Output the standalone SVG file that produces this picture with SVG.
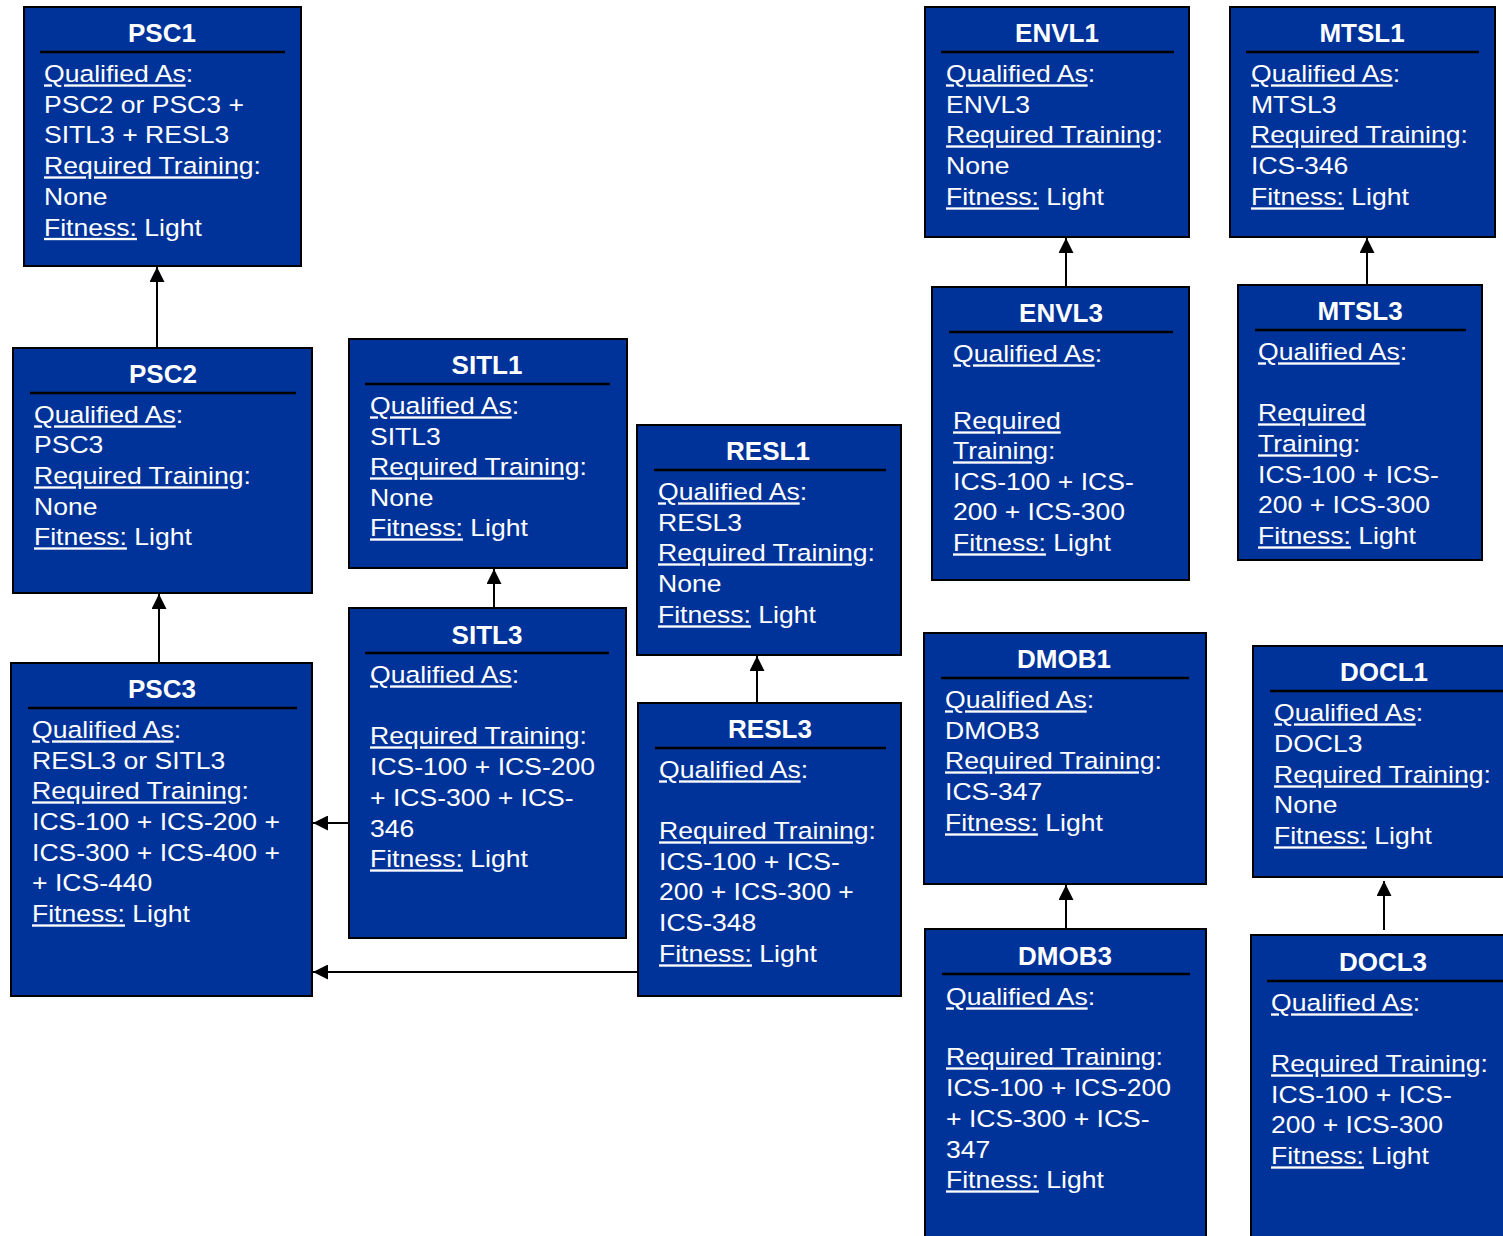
<svg xmlns="http://www.w3.org/2000/svg" width="1503" height="1236" viewBox="0 0 1503 1236">
  <style>
    .box{fill:#003399;stroke:#000;stroke-width:2}
    .sep{stroke:#000;stroke-width:2.5}
    .title{font-family:"Liberation Sans",Arial,sans-serif;font-weight:bold;font-size:26px;fill:#fff;text-anchor:middle}
    .body{font-family:"Liberation Sans",Arial,sans-serif;font-size:23.3px;fill:#fff}
    .u{text-decoration:underline}
    .conn{stroke:#000;stroke-width:2;fill:none;marker-end:url(#arrow)}
  </style>
  <defs>
    <marker id="arrow" markerUnits="userSpaceOnUse" viewBox="0 0 15 15" markerWidth="15" markerHeight="15" refX="15" refY="7.5" orient="auto">
      <path d="M0,0 L15,7.5 L0,15 z" fill="#000"/>
    </marker>
  </defs>
  <rect width="1503" height="1236" fill="#fff"/>

  <!-- Connectors -->
  <g id="connectors">
    <path class="conn" d="M157,348 L157,267"/>
    <path class="conn" d="M159,663 L159,594"/>
    <path class="conn" d="M494,608 L494,569"/>
    <path class="conn" d="M757,703 L757,656"/>
    <path class="conn" d="M1066,287 L1066,238"/>
    <path class="conn" d="M1367,285 L1367,238"/>
    <path class="conn" d="M1066,929 L1066,885"/>
    <path class="conn" d="M1384,930 L1384,881"/>
    <path class="conn" d="M349,823 L313,823"/>
    <path class="conn" d="M638,972 L313,972"/>
  </g>

  <!-- PSC1 -->
  <g id="PSC1">
    <rect class="box" x="24" y="7" width="277" height="259"/>
    <text class="title" x="162" y="42">PSC1</text>
    <line class="sep" x1="40" y1="52" x2="285" y2="52"/>
    <g class="body" transform="translate(44 0) scale(1.14 1)">
      <text y="82.5"><tspan class="u">Qualified As</tspan>:</text>
      <text y="113">PSC2 or PSC3 +</text>
      <text y="143.5">SITL3 + RESL3</text>
      <text y="174.5"><tspan class="u">Required Training</tspan>:</text>
      <text y="205">None</text>
      <text y="236"><tspan class="u">Fitness:</tspan> Light</text>
    </g>
  </g>

  <!-- PSC2 -->
  <g id="PSC2">
    <rect class="box" x="13" y="348" width="299" height="245"/>
    <text class="title" x="163" y="383">PSC2</text>
    <line class="sep" x1="30" y1="393" x2="296" y2="393"/>
    <g class="body" transform="translate(34 0) scale(1.14 1)">
      <text y="423.5"><tspan class="u">Qualified As</tspan>:</text>
      <text y="453.5">PSC3</text>
      <text y="484.5"><tspan class="u">Required Training</tspan>:</text>
      <text y="515.5">None</text>
      <text y="545.5"><tspan class="u">Fitness:</tspan> Light</text>
    </g>
  </g>

  <!-- PSC3 -->
  <g id="PSC3">
    <rect class="box" x="11" y="663" width="301" height="333"/>
    <text class="title" x="162" y="698">PSC3</text>
    <line class="sep" x1="28" y1="708" x2="297" y2="708"/>
    <g class="body" transform="translate(32 0) scale(1.14 1)">
      <text y="738.5"><tspan class="u">Qualified As</tspan>:</text>
      <text y="769.5">RESL3 or SITL3</text>
      <text y="799.5"><tspan class="u">Required Training</tspan>:</text>
      <text y="830.5">ICS-100 + ICS-200 +</text>
      <text y="861.5">ICS-300 + ICS-400 +</text>
      <text y="891.5">+ ICS-440</text>
      <text y="922.5"><tspan class="u">Fitness:</tspan> Light</text>
    </g>
  </g>

  <!-- SITL1 -->
  <g id="SITL1">
    <rect class="box" x="349" y="339" width="278" height="229"/>
    <text class="title" x="487" y="374">SITL1</text>
    <line class="sep" x1="365" y1="384" x2="610" y2="384"/>
    <g class="body" transform="translate(370 0) scale(1.14 1)">
      <text y="414.5"><tspan class="u">Qualified As</tspan>:</text>
      <text y="445.5">SITL3</text>
      <text y="475.5"><tspan class="u">Required Training</tspan>:</text>
      <text y="506.5">None</text>
      <text y="536.5"><tspan class="u">Fitness:</tspan> Light</text>
    </g>
  </g>

  <!-- SITL3 -->
  <g id="SITL3">
    <rect class="box" x="349" y="608" width="277" height="330"/>
    <text class="title" x="487" y="644">SITL3</text>
    <line class="sep" x1="365" y1="653" x2="609" y2="653"/>
    <g class="body" transform="translate(370 0) scale(1.14 1)">
      <text y="683.5"><tspan class="u">Qualified As</tspan>:</text>
      <text y="744.5"><tspan class="u">Required Training</tspan>:</text>
      <text y="775.5">ICS-100 + ICS-200</text>
      <text y="806.5">+ ICS-300 + ICS-</text>
      <text y="837.5">346</text>
      <text y="867.5"><tspan class="u">Fitness:</tspan> Light</text>
    </g>
  </g>

  <!-- RESL1 -->
  <g id="RESL1">
    <rect class="box" x="637" y="425" width="264" height="230"/>
    <text class="title" x="768" y="460">RESL1</text>
    <line class="sep" x1="654" y1="470" x2="886" y2="470"/>
    <g class="body" transform="translate(658 0) scale(1.14 1)">
      <text y="500.5"><tspan class="u">Qualified As</tspan>:</text>
      <text y="531.5">RESL3</text>
      <text y="561.5"><tspan class="u">Required Training</tspan>:</text>
      <text y="592.5">None</text>
      <text y="623.5"><tspan class="u">Fitness:</tspan> Light</text>
    </g>
  </g>

  <!-- RESL3 -->
  <g id="RESL3">
    <rect class="box" x="638" y="703" width="263" height="293"/>
    <text class="title" x="770" y="738">RESL3</text>
    <line class="sep" x1="655" y1="748" x2="886" y2="748"/>
    <g class="body" transform="translate(659 0) scale(1.14 1)">
      <text y="778.5"><tspan class="u">Qualified As</tspan>:</text>
      <text y="839.5"><tspan class="u">Required Training</tspan>:</text>
      <text y="870.5">ICS-100 + ICS-</text>
      <text y="900.5">200 + ICS-300 +</text>
      <text y="931.5">ICS-348</text>
      <text y="962.5"><tspan class="u">Fitness:</tspan> Light</text>
    </g>
  </g>

  <!-- ENVL1 -->
  <g id="ENVL1">
    <rect class="box" x="925" y="7" width="264" height="230"/>
    <text class="title" x="1057" y="42">ENVL1</text>
    <line class="sep" x1="941" y1="52" x2="1174" y2="52"/>
    <g class="body" transform="translate(946 0) scale(1.14 1)">
      <text y="82.5"><tspan class="u">Qualified As</tspan>:</text>
      <text y="113.5">ENVL3</text>
      <text y="143.5"><tspan class="u">Required Training</tspan>:</text>
      <text y="174.5">None</text>
      <text y="205.5"><tspan class="u">Fitness:</tspan> Light</text>
    </g>
  </g>

  <!-- ENVL3 -->
  <g id="ENVL3">
    <rect class="box" x="932" y="287" width="257" height="293"/>
    <text class="title" x="1061" y="322">ENVL3</text>
    <line class="sep" x1="949" y1="332" x2="1173" y2="332"/>
    <g class="body" transform="translate(953 0) scale(1.14 1)">
      <text y="362.5"><tspan class="u">Qualified As</tspan>:</text>
      <text y="429.5"><tspan class="u">Required</tspan></text>
      <text y="459.5"><tspan class="u">Training</tspan>:</text>
      <text y="490.5">ICS-100 + ICS-</text>
      <text y="520.5">200 + ICS-300</text>
      <text y="551.5"><tspan class="u">Fitness:</tspan> Light</text>
    </g>
  </g>

  <!-- MTSL1 -->
  <g id="MTSL1">
    <rect class="box" x="1230" y="7" width="265" height="230"/>
    <text class="title" x="1362" y="42">MTSL1</text>
    <line class="sep" x1="1246" y1="52" x2="1479" y2="52"/>
    <g class="body" transform="translate(1251 0) scale(1.14 1)">
      <text y="82.5"><tspan class="u">Qualified As</tspan>:</text>
      <text y="113.5">MTSL3</text>
      <text y="143.5"><tspan class="u">Required Training</tspan>:</text>
      <text y="174.5">ICS-346</text>
      <text y="205.5"><tspan class="u">Fitness:</tspan> Light</text>
    </g>
  </g>

  <!-- MTSL3 -->
  <g id="MTSL3">
    <rect class="box" x="1238" y="285" width="244" height="275"/>
    <text class="title" x="1360" y="320">MTSL3</text>
    <line class="sep" x1="1255" y1="330" x2="1466" y2="330"/>
    <g class="body" transform="translate(1258 0) scale(1.14 1)">
      <text y="360.5"><tspan class="u">Qualified As</tspan>:</text>
      <text y="421.5"><tspan class="u">Required</tspan></text>
      <text y="452.5"><tspan class="u">Training</tspan>:</text>
      <text y="483.5">ICS-100 + ICS-</text>
      <text y="513.5">200 + ICS-300</text>
      <text y="544.5"><tspan class="u">Fitness:</tspan> Light</text>
    </g>
  </g>

  <!-- DMOB1 -->
  <g id="DMOB1">
    <rect class="box" x="924" y="633" width="282" height="251"/>
    <text class="title" x="1064" y="668">DMOB1</text>
    <line class="sep" x1="941" y1="678" x2="1189" y2="678"/>
    <g class="body" transform="translate(945 0) scale(1.14 1)">
      <text y="708.5"><tspan class="u">Qualified As</tspan>:</text>
      <text y="739.5">DMOB3</text>
      <text y="769.5"><tspan class="u">Required Training</tspan>:</text>
      <text y="800.5">ICS-347</text>
      <text y="831.5"><tspan class="u">Fitness:</tspan> Light</text>
    </g>
  </g>

  <!-- DMOB3 -->
  <g id="DMOB3">
    <rect class="box" x="925" y="929" width="281" height="320"/>
    <text class="title" x="1065" y="965">DMOB3</text>
    <line class="sep" x1="942" y1="974" x2="1190" y2="974"/>
    <g class="body" transform="translate(946 0) scale(1.14 1)">
      <text y="1005.5"><tspan class="u">Qualified As</tspan>:</text>
      <text y="1065.5"><tspan class="u">Required Training</tspan>:</text>
      <text y="1096.5">ICS-100 + ICS-200</text>
      <text y="1127.5">+ ICS-300 + ICS-</text>
      <text y="1158.5">347</text>
      <text y="1188.5"><tspan class="u">Fitness:</tspan> Light</text>
    </g>
  </g>

  <!-- DOCL1 -->
  <g id="DOCL1">
    <rect class="box" x="1253" y="646" width="270" height="231"/>
    <text class="title" x="1384" y="681">DOCL1</text>
    <line class="sep" x1="1270" y1="691" x2="1503" y2="691"/>
    <g class="body" transform="translate(1274 0) scale(1.14 1)">
      <text y="721.5"><tspan class="u">Qualified As</tspan>:</text>
      <text y="752.5">DOCL3</text>
      <text y="783.5"><tspan class="u">Required Training</tspan>:</text>
      <text y="813.5">None</text>
      <text y="844.5"><tspan class="u">Fitness:</tspan> Light</text>
    </g>
  </g>

  <!-- DOCL3 -->
  <g id="DOCL3">
    <rect class="box" x="1251" y="935" width="270" height="320"/>
    <text class="title" x="1383" y="971">DOCL3</text>
    <line class="sep" x1="1267" y1="981" x2="1503" y2="981"/>
    <g class="body" transform="translate(1271 0) scale(1.14 1)">
      <text y="1011.5"><tspan class="u">Qualified As</tspan>:</text>
      <text y="1072.5"><tspan class="u">Required Training</tspan>:</text>
      <text y="1103.5">ICS-100 + ICS-</text>
      <text y="1133.5">200 + ICS-300</text>
      <text y="1164.5"><tspan class="u">Fitness:</tspan> Light</text>
    </g>
  </g>
</svg>
